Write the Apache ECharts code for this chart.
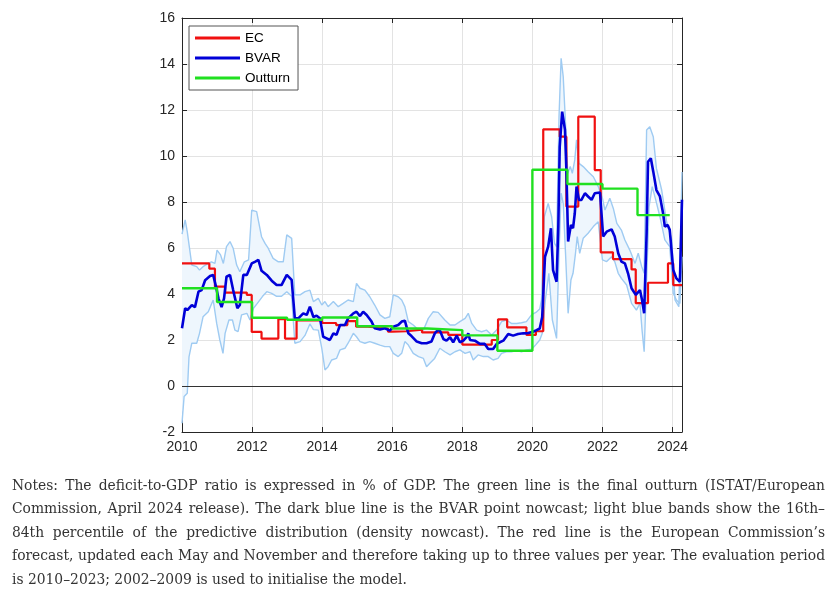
<!DOCTYPE html>
<html>
<head>
<meta charset="utf-8">
<script src="https://cdn.jsdelivr.net/npm/echarts@6/dist/echarts.min.js"></script>
<style>
  html, body { margin: 0; padding: 0; background: #fff; }
  #wrap { position: relative; width: 837px; height: 601px; overflow: hidden; }
  #chart { position: absolute; left: 0; top: 0; width: 837px; height: 601px; }
  #notes {
    position: absolute; left: 12px; top: 474px; width: 813px;
    font-family: "DejaVu Serif Condensed", "DejaVu Serif", serif;
    font-stretch: condensed; font-size: 15.4px; color: #333;
  }
  #notes div { height: 23.4px; line-height: 23.4px; white-space: nowrap; text-align: justify; text-align-last: justify; }
  #notes div.last { text-align: left; text-align-last: left; }
</style>
</head>
<body>
<div id="wrap">
  <div id="chart"></div>
  <div id="notes">
    <div>Notes: The deficit-to-GDP ratio is expressed in % of GDP. The green line is the final outturn (ISTAT/European</div>
    <div>Commission, April 2024 release). The dark blue line is the BVAR point nowcast; light blue bands show the 16th–</div>
    <div>84th percentile of the predictive distribution (density nowcast). The red line is the European Commission’s</div>
    <div>forecast, updated each May and November and therefore taking up to three values per year. The evaluation period</div>
    <div class="last">is 2010–2023; 2002–2009 is used to initialise the model.</div>
  </div>
</div>
<script>
// outturn (ISTAT/EC), one value per year
var outturnDates = [2010, 2011, 2012, 2013, 2014, 2015, 2016, 2017, 2018, 2019, 2020, 2021, 2022, 2023, 2023.92];
var outturnValues = [4.25, 3.65, 2.97, 2.88, 2.98, 2.6, 2.5, 2.43, 2.2, 1.53, 9.4, 8.78, 8.58, 7.43, 7.43];

// European Commission forecast (step)
var ecDates = [2010, 2010.78, 2010.94, 2011.23, 2011.85, 2011.99, 2012.27, 2012.75, 2012.94, 2013.27,
  2014.0, 2014.4, 2014.72, 2014.97, 2015.31, 2015.88, 2016.0, 2016.4, 2016.85, 2017.6, 2018.0,
  2018.84, 2019.02, 2019.28, 2019.83, 2020.1, 2020.31, 2020.78, 2020.97, 2021.31, 2021.78,
  2021.95, 2022.3, 2022.83, 2022.95, 2023.3, 2023.87, 2024.02, 2024.27];
var ecValues = [5.33, 5.1, 4.32, 4.06, 3.96, 2.35, 2.06, 2.91, 2.06, 2.85,
  2.74, 2.65, 2.82, 2.58, 2.5, 2.36, 2.38, 2.45, 2.33, 2.22, 1.8,
  2.0, 2.9, 2.55, 2.22, 2.38, 11.16, 10.84, 7.8, 11.71, 9.39,
  5.81, 5.52, 5.07, 3.6, 4.49, 5.33, 4.39, 4.39];

// BVAR point nowcast
var bvarDates = [2010.0, 2010.09, 2010.15, 2010.28, 2010.37, 2010.47, 2010.56, 2010.66, 2010.8, 2010.89,
  2010.97, 2011.04, 2011.13, 2011.2, 2011.27, 2011.37, 2011.46, 2011.58, 2011.65, 2011.75,
  2011.85, 2011.99, 2012.08, 2012.18, 2012.27, 2012.42, 2012.56, 2012.7, 2012.84, 2012.99,
  2013.13, 2013.22, 2013.32, 2013.46, 2013.56, 2013.65, 2013.75, 2013.84, 2013.94, 2014.03,
  2014.13, 2014.22, 2014.32, 2014.41, 2014.51, 2014.65, 2014.74, 2014.89, 2014.98, 2015.08,
  2015.17, 2015.27, 2015.41, 2015.5, 2015.65, 2015.79, 2015.93, 2016.03, 2016.17, 2016.27,
  2016.36, 2016.46, 2016.55, 2016.7, 2016.84, 2016.98, 2017.12, 2017.22, 2017.3, 2017.36,
  2017.46, 2017.55, 2017.65, 2017.74, 2017.84, 2017.93, 2018.03, 2018.12, 2018.17, 2018.22,
  2018.36, 2018.5, 2018.64, 2018.74, 2018.88, 2018.98, 2019.07, 2019.17, 2019.31, 2019.45,
  2019.59, 2019.74, 2019.88, 2020.02, 2020.12, 2020.21, 2020.28, 2020.36, 2020.45, 2020.53,
  2020.59, 2020.69, 2020.74, 2020.78, 2020.85, 2020.93, 2020.97, 2021.02, 2021.1, 2021.16,
  2021.21, 2021.26, 2021.33, 2021.4, 2021.5, 2021.59, 2021.69, 2021.78, 2021.93, 2022.02,
  2022.12, 2022.26, 2022.35, 2022.45, 2022.54, 2022.64, 2022.73, 2022.83, 2022.95, 2023.07,
  2023.13, 2023.19, 2023.26, 2023.3, 2023.38, 2023.45, 2023.54, 2023.64, 2023.73, 2023.78,
  2023.86, 2023.92, 2024.02, 2024.11, 2024.21, 2024.27];
var bvarValues = [2.51, 3.38, 3.3, 3.52, 3.43, 4.1, 4.17, 4.6, 4.78, 4.83,
  4.32, 3.81, 3.43, 3.81, 4.75, 4.83, 4.17, 3.38, 3.52, 4.83,
  4.83, 5.33, 5.4, 5.48, 5.01, 4.83, 4.58, 4.39, 4.39, 4.83,
  4.61, 2.94, 2.94, 3.16, 3.09, 3.45, 3.0, 3.06, 2.93, 2.14,
  2.07, 2.0, 2.29, 2.22, 2.65, 2.65, 2.94, 3.16, 3.23, 3.04,
  3.23, 3.09, 2.8, 2.51, 2.46, 2.51, 2.41, 2.58, 2.65, 2.8,
  2.84, 2.29, 2.17, 1.93, 1.86, 1.86, 1.93, 2.3, 2.43, 2.41,
  2.04, 1.97, 2.12, 1.9, 2.19, 1.9, 1.97, 2.12, 2.29, 2.0,
  1.97, 1.83, 1.83, 1.61, 1.61, 1.83, 1.9, 1.97, 2.26, 2.19,
  2.26, 2.29, 2.3, 2.36, 2.43, 2.5, 3.0, 5.62, 6.06, 6.86,
  5.04, 4.53, 6.93, 10.4, 11.93, 11.14, 9.4, 6.28, 7.0, 6.86,
  7.51, 8.67, 8.09, 8.09, 8.38, 8.24, 8.09, 8.38, 8.41, 6.5,
  6.71, 6.81, 6.5, 5.77, 5.41, 5.33, 4.9, 4.25, 3.96, 4.17,
  3.74, 3.16, 6.64, 9.75, 9.9, 9.32, 8.52, 8.24, 7.51, 6.93,
  7.0, 6.79, 5.04, 4.68, 4.53, 8.1];

// 84th percentile
var upperDates = [2010.0, 2010.09, 2010.15, 2010.28, 2010.42, 2010.5, 2010.6, 2010.75, 2010.84, 2010.94,
  2011.0, 2011.1, 2011.18, 2011.27, 2011.37, 2011.46, 2011.56, 2011.65, 2011.78, 2011.9,
  2011.99, 2012.13, 2012.27, 2012.37, 2012.46, 2012.6, 2012.75, 2012.89, 2012.99, 2013.13,
  2013.22, 2013.37, 2013.51, 2013.65, 2013.75, 2013.89, 2013.99, 2014.08, 2014.17, 2014.32,
  2014.46, 2014.6, 2014.74, 2014.89, 2014.98, 2015.08, 2015.22, 2015.36, 2015.5, 2015.65,
  2015.79, 2015.93, 2016.03, 2016.17, 2016.27, 2016.36, 2016.46, 2016.6, 2016.75, 2016.89,
  2017.03, 2017.17, 2017.31, 2017.5, 2017.65, 2017.79, 2017.93, 2018.08, 2018.17, 2018.27,
  2018.41, 2018.55, 2018.69, 2018.84, 2018.98, 2019.12, 2019.26, 2019.4, 2019.55, 2019.69,
  2019.83, 2019.98, 2020.1, 2020.21, 2020.26, 2020.34, 2020.45, 2020.55, 2020.63, 2020.69,
  2020.76, 2020.82, 2020.88, 2020.95, 2021.01, 2021.08, 2021.14, 2021.21, 2021.26, 2021.33,
  2021.45, 2021.59, 2021.74, 2021.88, 2022.0, 2022.07, 2022.21, 2022.31, 2022.41, 2022.54,
  2022.64, 2022.78, 2022.93, 2023.02, 2023.12, 2023.19, 2023.26, 2023.35, 2023.45, 2023.54,
  2023.69, 2023.83, 2023.98, 2024.07, 2024.18, 2024.27];
var upperValues = [6.6, 7.22, 6.71, 5.26, 5.19, 5.04, 5.19, 5.33, 5.4, 5.33,
  5.91, 5.7, 5.33, 6.06, 6.28, 5.99, 5.26, 4.97, 5.4, 5.48,
  7.65, 7.58, 6.49, 6.2, 5.99, 5.55, 5.4, 5.4, 6.57, 6.42,
  3.96, 3.96, 4.1, 4.17, 3.67, 3.81, 3.52, 3.67, 3.45, 3.67,
  3.45, 3.59, 3.74, 3.67, 4.46, 4.25, 4.17, 3.88, 3.52, 3.09,
  2.94, 3.01, 3.96, 3.88, 3.74, 3.45, 2.8, 2.65, 2.43, 2.43,
  2.94, 3.23, 3.2, 2.87, 2.65, 2.65, 2.8, 2.94, 3.16, 2.72,
  2.43, 2.36, 2.43, 2.22, 2.43, 2.8, 2.87, 2.72, 2.72, 2.75,
  2.8, 3.1, 3.2, 3.35, 3.74, 7.36, 7.94, 7.36, 6.2, 6.06,
  11.71, 14.25, 13.45, 11.27, 9.25, 9.54, 9.25, 9.83, 10.7, 9.68,
  9.54, 9.32, 9.1, 8.67, 8.16, 7.65, 8.16, 7.72, 7.07, 6.78,
  6.35, 5.91, 5.33, 5.77, 5.19, 4.9, 11.13, 11.27, 10.84, 9.46,
  8.52, 7.14, 6.35, 3.74, 3.45, 9.3];

// 16th percentile
var lowerDates = [2010.0, 2010.06, 2010.15, 2010.2, 2010.28, 2010.42, 2010.5, 2010.6, 2010.75, 2010.89,
  2010.99, 2011.08, 2011.17, 2011.23, 2011.34, 2011.44, 2011.51, 2011.6, 2011.7, 2011.85,
  2011.94, 2012.04, 2012.15, 2012.3, 2012.42, 2012.56, 2012.7, 2012.84, 2012.99, 2013.13,
  2013.22, 2013.37, 2013.51, 2013.65, 2013.75, 2013.89, 2013.99, 2014.08, 2014.17, 2014.27,
  2014.41, 2014.51, 2014.65, 2014.74, 2014.89, 2014.98, 2015.08, 2015.22, 2015.36, 2015.5,
  2015.65, 2015.79, 2015.93, 2016.03, 2016.17, 2016.27, 2016.36, 2016.46, 2016.6, 2016.75,
  2016.89, 2016.98, 2017.08, 2017.21, 2017.36, 2017.5, 2017.65, 2017.79, 2017.93, 2018.08,
  2018.22, 2018.31, 2018.45, 2018.6, 2018.74, 2018.88, 2019.02, 2019.12, 2019.26, 2019.4,
  2019.55, 2019.69, 2019.83, 2019.98, 2020.1, 2020.21, 2020.28, 2020.37, 2020.47, 2020.57,
  2020.69, 2020.76, 2020.82, 2020.88, 2020.95, 2021.02, 2021.1, 2021.16, 2021.23, 2021.28,
  2021.35, 2021.45, 2021.59, 2021.74, 2021.88, 2022.0, 2022.12, 2022.26, 2022.35, 2022.45,
  2022.54, 2022.69, 2022.83, 2022.97, 2023.07, 2023.13, 2023.19, 2023.26, 2023.33, 2023.42,
  2023.52, 2023.64, 2023.78, 2023.92, 2024.02, 2024.11, 2024.21, 2024.27];
var lowerValues = [-1.62, -0.46, -0.32, 1.27, 1.86, 1.86, 2.29, 3.01, 3.23, 3.74,
  2.72, 2.0, 1.42, 2.29, 2.87, 2.87, 2.43, 2.36, 3.09, 3.16,
  2.87, 3.38, 3.59, 3.9, 4.1, 4.03, 3.9, 3.9, 4.1, 3.9,
  1.86, 1.93, 2.2, 2.7, 2.45, 2.43, 1.64, 0.7, 0.84, 1.13,
  1.2, 1.57, 1.64, 1.86, 2.29, 2.14, 1.93, 1.86, 1.93, 1.86,
  1.78, 1.71, 1.71, 1.42, 1.28, 1.42, 1.93, 1.78, 1.42, 1.28,
  1.2, 0.84, 1.0, 1.2, 1.64, 1.49, 1.35, 1.49, 1.57, 1.42,
  1.49, 1.13, 1.35, 1.28, 1.28, 1.13, 1.2, 1.42, 1.49, 1.49,
  1.54, 1.49, 1.57, 1.6, 1.8, 2.0, 2.28, 3.74, 4.9, 2.87,
  2.07, 5.77, 8.38, 7.94, 5.62, 3.16, 4.61, 4.9, 5.77, 6.5,
  5.77, 6.42, 6.64, 6.93, 7.14, 5.48, 5.41, 5.62, 5.41, 4.9,
  4.68, 4.39, 3.59, 3.3, 3.59, 2.43, 1.49, 4.61, 7.8, 8.67,
  8.09, 7.36, 6.35, 6.06, 4.03, 3.74, 3.59, 5.62];

var yTicks = [-2, 0, 2, 4, 6, 8, 10, 12, 14, 16];
var xTicks = [2010, 2012, 2014, 2016, 2018, 2020, 2022, 2024];

function zip(a, b) {
  return a.map(function(v, i) { return [v, b[i]]; });
}

var upper = zip(upperDates, upperValues);
var lower = zip(lowerDates, lowerValues);

var axisColor = '#262626';
var labelFont = { color: '#262626', fontSize: 14, fontFamily: 'Liberation Sans, Arial, sans-serif' };

var chart = echarts.init(document.getElementById('chart'));
chart.setOption({
  backgroundColor: '#fff',
  animation: false,
  grid: { left: 182, right: 155, top: 18, bottom: 169, show: false },
  legend: {
    data: ['EC', 'BVAR', 'Outturn'],
    orient: 'vertical',
    left: 189,
    top: 26,
    icon: 'rect',
    itemWidth: 45,
    itemHeight: 3,
    itemGap: 6,
    padding: [5, 8, 5, 6],
    backgroundColor: '#fff',
    borderColor: '#555',
    borderWidth: 1,
    borderRadius: 0,
    textStyle: { color: '#000', fontSize: 13.5, fontFamily: 'Liberation Sans, Arial, sans-serif' }
  },
  xAxis: [{
    type: 'value',
    min: 2010,
    max: 2024.27,
    interval: 2,
    axisLine: { show: true, onZero: false, lineStyle: { color: axisColor } },
    axisTick: { show: true, inside: true, length: 5, lineStyle: { color: axisColor } },
    axisLabel: Object.assign({
      margin: 8, showMaxLabel: false,
      formatter: function(v) { return xTicks.indexOf(v) >= 0 ? String(v) : ''; }
    }, labelFont),
    splitLine: { show: true, lineStyle: { color: '#e3e3e3' } }
  }, {
    type: 'value',
    position: 'top',
    min: 2010,
    max: 2024.27,
    interval: 2,
    axisLine: { show: true, onZero: false, lineStyle: { color: axisColor } },
    axisTick: { show: true, inside: true, length: 5, lineStyle: { color: axisColor } },
    axisLabel: { show: false },
    splitLine: { show: false }
  }],
  yAxis: [{
    type: 'value',
    min: -2,
    max: 16,
    interval: 2,
    axisLine: { show: true, onZero: false, lineStyle: { color: axisColor } },
    axisTick: { show: true, inside: true, length: 5, lineStyle: { color: axisColor } },
    axisLabel: Object.assign({
      margin: 7,
      formatter: function(v) { return yTicks.indexOf(v) >= 0 ? String(v) : ''; }
    }, labelFont),
    splitLine: { show: true, lineStyle: { color: '#e3e3e3' } }
  }, {
    type: 'value',
    position: 'right',
    min: -2,
    max: 16,
    interval: 2,
    axisLine: { show: true, onZero: false, lineStyle: { color: axisColor } },
    axisTick: { show: true, inside: true, length: 5, lineStyle: { color: axisColor } },
    axisLabel: { show: false },
    splitLine: { show: false }
  }],
  series: [
    {
      // shaded band between 16th and 84th percentile
      name: 'band',
      type: 'custom',
      silent: true,
      clip: true,
      z: 1,
      data: [[2010, 0]],
      encode: { x: 0, y: 1 },
      renderItem: function(params, api) {
        var pts = upper.map(function(p) { return api.coord(p); });
        var lo = lower.slice().reverse().map(function(p) { return api.coord(p); });
        return {
          type: 'polygon',
          shape: { points: pts.concat(lo) },
          style: { fill: '#eef6fd', stroke: null }
        };
      }
    },
    {
      name: 'upper',
      type: 'line',
      data: upper,
      symbol: 'none',
      silent: true,
      z: 2,
      lineStyle: { color: '#9fcbf2', width: 1.4 }
    },
    {
      name: 'lower',
      type: 'line',
      data: lower,
      symbol: 'none',
      silent: true,
      z: 2,
      lineStyle: { color: '#9fcbf2', width: 1.4 }
    },
    {
      name: 'EC',
      type: 'line',
      step: 'end',
      data: zip(ecDates, ecValues),
      symbol: 'none',
      z: 3,
      color: '#f01010',
      lineStyle: { color: '#f01010', width: 2.2 },
      markLine: {
        silent: true,
        symbol: 'none',
        label: { show: false },
        lineStyle: { color: '#333', width: 1, type: 'solid' },
        data: [{ yAxis: 0 }]
      }
    },
    {
      name: 'BVAR',
      type: 'line',
      data: zip(bvarDates, bvarValues),
      symbol: 'none',
      z: 4,
      color: '#0000d8',
      lineStyle: { color: '#0000d8', width: 2.6 }
    },
    {
      name: 'Outturn',
      type: 'line',
      step: 'end',
      data: zip(outturnDates, outturnValues),
      symbol: 'none',
      z: 5,
      color: '#20e020',
      lineStyle: { color: '#20e020', width: 2.4 }
    }
  ]
});
</script>
</body>
</html>
